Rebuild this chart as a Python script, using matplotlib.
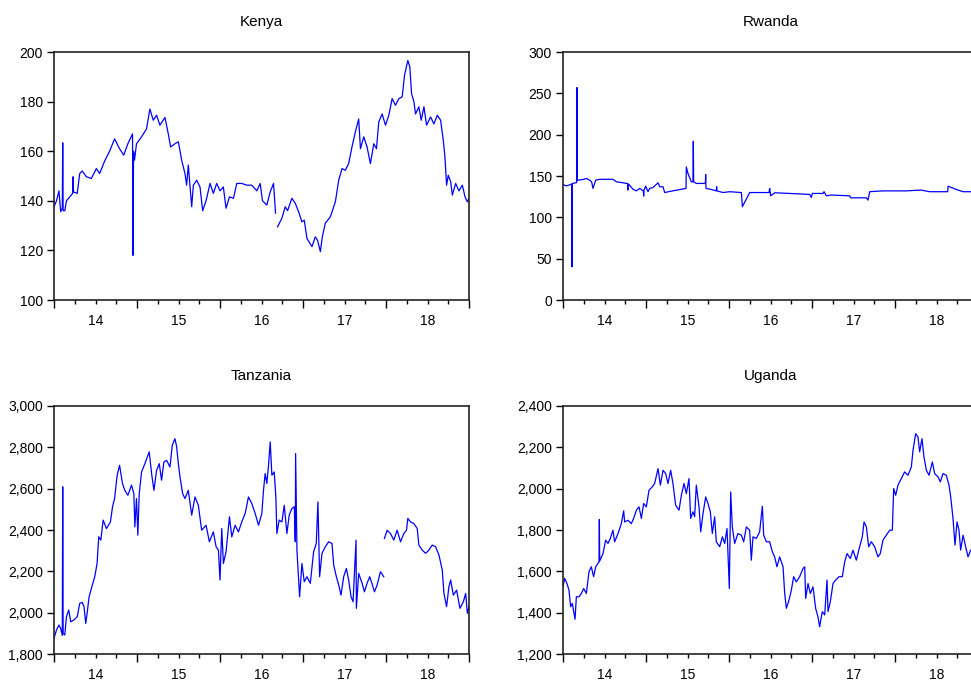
import matplotlib.pyplot as plt
import numpy as np
from matplotlib.ticker import FuncFormatter

plt.rcParams['font.family'] = ['Liberation Sans', 'DejaVu Sans']

# time is in years since the start of 2014
kenya_t = [0.00, 0.03, 0.06, 0.08, 0.100, 0.105, 0.110, 0.13, 0.15, 0.19,
           0.225, 0.23, 0.235, 0.28, 0.31, 0.34, 0.39, 0.45, 0.51, 0.55,
           0.61, 0.67, 0.73, 0.79, 0.84, 0.89, 0.946, 0.952, 0.958, 0.97,
           0.994, 1.055, 1.115, 1.155, 1.196, 1.236, 1.276, 1.337, 1.377, 1.405,
           1.457, 1.498, 1.538, 1.578, 1.598, 1.618, 1.659, 1.679, 1.719, 1.759,
           1.791, 1.832, 1.88, 1.92, 1.96, 2.0, 2.04, 2.073, 2.114, 2.162,
           2.202, 2.262, 2.323, 2.383, 2.444, 2.484, 2.512, 2.564, 2.605, 2.645,
           2.669, 2.681, 2.693, 2.746, 2.786, 2.814, 2.866, 2.907, 2.947, 2.987,
           3.015, 3.048, 3.108, 3.148, 3.176, 3.209, 3.233, 3.269, 3.329, 3.39,
           3.43, 3.47, 3.51, 3.55, 3.59, 3.631, 3.671, 3.692, 3.732, 3.772,
           3.812, 3.853, 3.885, 3.913, 3.953, 3.994, 4.034, 4.074, 4.114, 4.155,
           4.195, 4.223, 4.263, 4.287, 4.308, 4.336, 4.356, 4.396, 4.424, 4.457,
           4.489, 4.537, 4.577, 4.618, 4.658, 4.69, 4.71, 4.73, 4.75, 4.779,
           4.799, 4.839, 4.879, 4.92, 4.952, 4.98, 5.0]
kenya_v = [137.6, 140, 144, 135.6, 137, 163.4, 136, 136, 140, 141.6,
           143, 149.7, 143.6, 143, 151, 152, 149.7, 149, 153, 151,
           156, 160, 165, 161, 158.4, 163, 167, 118, 160, 156.4,
           163, 165.8, 169, 177, 172.5, 174.5, 170.5, 173.6, 167, 161.7,
           163, 163.8, 156.4, 151, 146.3, 154.4, 137.6, 146.3, 148.3, 145.6,
           136, 140, 147, 143, 147, 144, 145.6, 137, 141.6, 141,
           147, 147, 146.3, 146.3, 144, 147, 140, 138.3, 143.6, 147,
           135, np.nan, 129.5, 133, 137.6, 136, 141, 139, 135.6, 131.5,
           132.2, 124.8, 121.5, 125.5, 124, 119.5, 125.5, 131, 133.5, 139.6,
           148.3, 153, 152.3, 155, 161.7, 167.8, 173, 161, 165.8, 161.7,
           155, 163, 161, 171.8, 175, 170.5, 174.5, 181.2, 178.5, 181.2,
           181.9, 190.6, 196.6, 194, 183.2, 180, 175, 177.9, 172.5, 177.9,
           170.5, 173.8, 171, 174.5, 172.5, 164.4, 157.7, 146.3, 150.3, 147.7,
           142.3, 147, 144, 146.3, 141.6, 139.6, 141]

rwanda_t = [0.00, 0.04, 0.10, 0.104, 0.108, 0.112, 0.153, 0.165, 0.169, 0.173,
            0.181, 0.241, 0.281, 0.321, 0.345, 0.361, 0.394, 0.442, 0.522, 0.602,
            0.643, 0.723, 0.763, 0.779, 0.783, 0.787, 0.795, 0.843, 0.884, 0.924,
            0.968, 0.972, 0.976, 0.996, 1.024, 1.044, 1.084, 1.145, 1.165, 1.205,
            1.225, 1.305, 1.482, 1.486, 1.506, 1.546, 1.566, 1.570, 1.574, 1.606,
            1.707, 1.715, 1.719, 1.723, 1.787, 1.847, 1.851, 1.855, 1.928, 2.008,
            2.149, 2.161, 2.249, 2.482, 2.49, 2.502, 2.55, 2.731, 2.972, 2.992,
            3.004, 3.133, 3.145, 3.173, 3.233, 3.454, 3.466, 3.655, 3.675, 3.695,
            3.855, 4.137, 4.313, 4.418, 4.618, 4.635, 4.639, 4.739, 4.819, 4.912,
            5.0]
rwanda_v = [139.7, 138, 140, 140, 40.3, 141, 141.8, 142, 257, 145,
            145, 145.8, 147, 145, 143, 135, 145, 146, 146, 146,
            143, 141.8, 141, 141, 133, 140, 139.7, 134, 132, 135,
            132, 125.7, 133, 137.7, 131, 135, 136, 141.8, 137, 137,
            130, 131.7, 135, 161, 153, 143, 143, 192, 143, 141,
            141, 141, 151.8, 135, 133.7, 132, 137, 132, 130, 131,
            130, 112.8, 130, 130, 135, 126, 129.7, 128.9, 127.7, 124,
            128.9, 128.9, 131, 126, 127, 126, 123.6, 123.6, 120.8, 131,
            132, 132, 133, 131, 131, 131, 137.7, 133.7, 131, 131,
            131]

tanzania_t = [0.00, 0.03, 0.06, 0.08, 0.100, 0.105, 0.110, 0.13, 0.15, 0.177,
              0.201, 0.238, 0.28, 0.31, 0.34, 0.362, 0.382, 0.399, 0.423, 0.45,
              0.491, 0.519, 0.539, 0.564, 0.592, 0.632, 0.68, 0.705, 0.73, 0.761,
              0.79, 0.825, 0.853, 0.89, 0.934, 0.962, 0.974, 0.994, 1.01, 1.027,
              1.055, 1.095, 1.147, 1.176, 1.204, 1.236, 1.268, 1.296, 1.324, 1.357,
              1.397, 1.425, 1.457, 1.478, 1.498, 1.518, 1.55, 1.578, 1.618, 1.659,
              1.699, 1.739, 1.779, 1.832, 1.872, 1.92, 1.953, 1.981, 2.0, 2.021,
              2.041, 2.073, 2.114, 2.142, 2.182, 2.222, 2.262, 2.303, 2.343, 2.383,
              2.424, 2.464, 2.504, 2.524, 2.544, 2.564, 2.585, 2.605, 2.625, 2.653,
              2.673, 2.685, 2.713, 2.746, 2.774, 2.806, 2.834, 2.866, 2.895, 2.907,
              2.911, 2.927, 2.959, 2.987, 3.015, 3.048, 3.088, 3.128, 3.16, 3.18,
              3.2, 3.229, 3.269, 3.309, 3.349, 3.37, 3.402, 3.43, 3.458, 3.49,
              3.523, 3.55, 3.579, 3.603, 3.639, 3.643, 3.671, 3.712, 3.74, 3.772,
              3.804, 3.83, 3.861, 3.893, 3.933, 3.973, 3.977, 3.981, 4.014, 4.054,
              4.094, 4.134, 4.175, 4.215, 4.247, 4.263, 4.295, 4.336, 4.376, 4.396,
              4.436, 4.477, 4.517, 4.557, 4.597, 4.638, 4.678, 4.698, 4.73, 4.758,
              4.779, 4.811, 4.851, 4.891, 4.932, 4.96, 4.98, 5.0]
tanzania_v = [1876, 1916, 1940, 1924, 1890, 2609, 1900, 1892, 1980, 2013,
              1956, 1964, 1980, 2045, 2050, 2029, 1948, 1997, 2077, 2117,
              2174, 2238, 2367, 2351, 2448, 2407, 2439, 2512, 2552, 2665,
              2713, 2625, 2592, 2568, 2617, 2576, 2415, 2552, 2375, 2576,
              2681, 2721, 2778, 2673, 2592, 2689, 2721, 2641, 2729, 2737,
              2705, 2810, 2842, 2802, 2721, 2657, 2576, 2552, 2592, 2472,
              2560, 2520, 2399, 2423, 2343, 2391, 2319, 2303, 2158, 2407,
              2238, 2295, 2464, 2367, 2423, 2391, 2439, 2480, 2560, 2528,
              2480, 2423, 2480, 2592, 2673, 2625, 2713, 2826, 2665, 2681,
              2560, 2383, 2448, 2439, 2520, 2383, 2472, 2504, 2512, 2343,
              2770, 2303, 2077, 2238, 2150, 2174, 2142, 2295, 2335, 2536,
              2174, 2287, 2319, 2343, 2335, 2230, 2174, 2134, 2085, 2174,
              2214, 2158, 2077, 2053, 2351, 2021, 2190, 2142, 2101, 2142,
              2174, 2142, 2101, 2134, 2198, 2174, np.nan, 2359, 2399, 2383,
              2351, 2399, 2343, 2383, 2399, 2456, 2439, 2431, 2407, 2327,
              2303, 2287, 2303, 2327, 2319, 2279, 2206, 2093, 2029, 2126,
              2158, 2085, 2109, 2021, 2053, 2093, 1997, 2029]

uganda_t = [0.00, 0.02, 0.048, 0.072, 0.092, 0.112, 0.133, 0.145, 0.161, 0.193,
            0.221, 0.249, 0.281, 0.313, 0.341, 0.369, 0.394, 0.434, 0.438, 0.442,
            0.482, 0.514, 0.542, 0.57, 0.602, 0.622, 0.663, 0.703, 0.731, 0.743,
            0.783, 0.823, 0.851, 0.884, 0.916, 0.944, 0.972, 1.004, 1.036, 1.076,
            1.104, 1.145, 1.173, 1.205, 1.237, 1.265, 1.297, 1.325, 1.357, 1.398,
            1.426, 1.458, 1.486, 1.518, 1.538, 1.566, 1.586, 1.606, 1.639, 1.659,
            1.687, 1.719, 1.747, 1.775, 1.799, 1.827, 1.847, 1.888, 1.92, 1.948,
            1.976, 2.004, 2.02, 2.04, 2.068, 2.108, 2.149, 2.177, 2.209, 2.249,
            2.269, 2.289, 2.329, 2.369, 2.402, 2.418, 2.45, 2.49, 2.522, 2.55,
            2.578, 2.61, 2.651, 2.671, 2.691, 2.723, 2.751, 2.779, 2.811, 2.851,
            2.892, 2.912, 2.924, 2.952, 2.98, 3.012, 3.044, 3.072, 3.092, 3.124,
            3.153, 3.181, 3.193, 3.221, 3.253, 3.285, 3.325, 3.365, 3.394, 3.422,
            3.462, 3.494, 3.534, 3.574, 3.606, 3.627, 3.655, 3.683, 3.715, 3.755,
            3.795, 3.823, 3.855, 3.896, 3.936, 3.968, 3.984, 4.008, 4.036, 4.076,
            4.116, 4.157, 4.197, 4.217, 4.249, 4.277, 4.297, 4.325, 4.349, 4.378,
            4.41, 4.45, 4.478, 4.518, 4.546, 4.578, 4.618, 4.651, 4.671, 4.699,
            4.723, 4.747, 4.771, 4.791, 4.82, 4.851, 4.88, 4.912, 5.0]
uganda_v = [1525, 1566, 1541, 1509, 1429, 1445, 1397, 1368, 1477, 1477,
            1493, 1517, 1493, 1598, 1622, 1574, 1622, 1646, 1851, 1650,
            1686, 1751, 1735, 1759, 1799, 1743, 1783, 1831, 1893, 1839,
            1847, 1831, 1856, 1896, 1912, 1856, 1928, 1912, 1992, 2009,
            2025, 2097, 2017, 2089, 2073, 2025, 2089, 2025, 1920, 1896,
            1968, 2025, 1976, 2049, 1856, 1888, 1864, 2017, 1912, 1791,
            1880, 1960, 1928, 1888, 1783, 1864, 1743, 1719, 1767, 1735,
            1807, 1517, 1984, 1815, 1735, 1783, 1775, 1743, 1815, 1799,
            1654, 1767, 1759, 1791, 1915, 1775, 1743, 1743, 1695, 1670,
            1622, 1670, 1622, 1493, 1421, 1461, 1509, 1574, 1549, 1574,
            1614, 1622, 1469, 1541, 1493, 1525, 1421, 1380, 1332, 1405,
            1389, 1558, 1405, 1453, 1541, 1558, 1574, 1574, 1646, 1686,
            1662, 1702, 1654, 1719, 1767, 1839, 1815, 1719, 1743, 1719,
            1670, 1686, 1751, 1775, 1799, 1799, 2001, 1968, 2017, 2049,
            2081, 2065, 2105, 2186, 2266, 2250, 2178, 2242, 2154, 2089,
            2065, 2129, 2073, 2057, 2033, 2073, 2065, 2017, 1960, 1856,
            1727, 1839, 1799, 1703, 1775, 1719, 1670, 1703, 1700]

years = [2014, 2015, 2016, 2017, 2018, 2019]
year_labels = ['14', '15', '16', '17', '18']

fig = plt.figure(figsize=(9.71, 6.83), dpi=100)
W, H = 971, 683


def panel(x0, y_top, title, t, v, ylim, yticks, comma):
    ax = fig.add_axes([x0 / W, (H - y_top - 248) / H, 415 / W, 248 / H])
    ax.plot(np.array(t) + 2014, v, color='#0000ff', lw=0.9)
    ax.set_xlim(2014, 2019)
    ax.set_ylim(*ylim)
    ax.set_yticks(yticks)
    if comma:
        ax.yaxis.set_major_formatter(FuncFormatter(lambda y, p: f'{y:,.0f}'))
    ax.set_xticks(years)
    ax.set_xticklabels([])
    quarters = [y + q for y in years[:-1] for q in (0.25, 0.5, 0.75)]
    ax.set_xticks(quarters, minor=True)
    ax.set_xticklabels([year_labels[i // 3] if i % 3 == 1 else '' for i in range(len(quarters))],
                       minor=True)
    ax.tick_params(axis='x', which='major', direction='out', length=6, width=1,
                   top=False)
    ax.tick_params(axis='x', which='minor', direction='out', length=3, width=1,
                   pad=7, labelsize=10, top=False)
    ax.tick_params(axis='y', direction='out', length=5, width=1, pad=3,
                   labelsize=10, right=False)
    for s in ax.spines.values():
        s.set_linewidth(1.2)
        s.set_color('#222222')
    ax.set_title(title, fontsize=11, pad=19)
    return ax


panel(54, 52, 'Kenya', kenya_t, kenya_v, (100, 200),
      [100, 120, 140, 160, 180, 200], False)
panel(563, 52, 'Rwanda', rwanda_t, rwanda_v, (0, 300),
      [0, 50, 100, 150, 200, 250, 300], False)
panel(54, 406, 'Tanzania', tanzania_t, tanzania_v, (1800, 3000),
      [1800, 2000, 2200, 2400, 2600, 2800, 3000], True)
panel(563, 406, 'Uganda', uganda_t, uganda_v, (1200, 2400),
      [1200, 1400, 1600, 1800, 2000, 2200, 2400], True)

fig.savefig('out.png', dpi=100)
